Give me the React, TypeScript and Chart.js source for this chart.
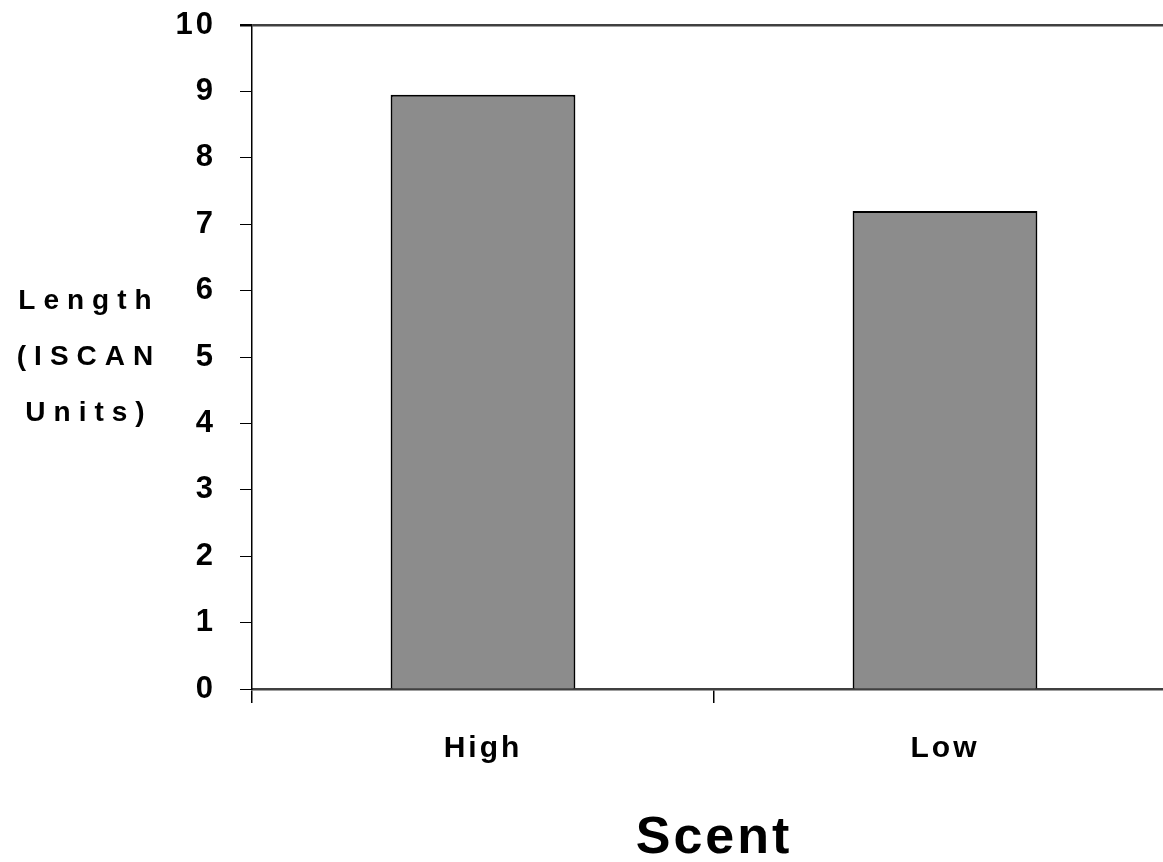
import React, { useEffect, useRef } from 'react';
import { Chart, registerables } from 'chart.js';

Chart.register(...registerables);

const categories = ['High', 'Low'];
const values = [8.95, 7.2];
const yMin = 0;
const yMax = 10;
const yStep = 1;
const yTitleLines = ['Length', '(ISCAN', 'Units)'];
const xTitle = 'Scent';

const FONT = '"Liberation Sans", Arial, Helvetica, sans-serif';

const textPlugin = {
  id: 'textPlugin',
  beforeDraw(chart: any) {
    chart.ctx.letterSpacing = '3px';
  },
  afterDraw(chart: any) {
    const ctx = chart.ctx;
    ctx.save();
    ctx.letterSpacing = '8px';
    ctx.font = `bold 28px ${FONT}`;
    ctx.fillStyle = '#000';
    ctx.textAlign = 'center';
    ctx.textBaseline = 'middle';
    const { top, bottom } = chart.chartArea;
    const cy = (top + bottom) / 2;
    yTitleLines.forEach((line, i) => {
      ctx.fillText(line, 89, cy + (i - 1) * 56);
    });
    ctx.restore();
    ctx.letterSpacing = '0px';
  },
};

export default function App() {
  const canvasRef = useRef<HTMLCanvasElement | null>(null);

  useEffect(() => {
    if (!canvasRef.current) return;
    const chart = new Chart(canvasRef.current, {
      type: 'bar',
      data: {
        labels: categories,
        datasets: [
          {
            data: values,
            backgroundColor: '#8c8c8c',
            borderColor: '#000',
            borderWidth: 2,
            barPercentage: 0.4,
            categoryPercentage: 1,
          },
        ],
      },
      options: {
        animation: false,
        responsive: true,
        maintainAspectRatio: false,
        layout: { padding: { top: 25, left: 0, right: 0, bottom: 0 } },
        plugins: {
          legend: { display: false },
          tooltip: { enabled: false },
        },
        scales: {
          x: {
            ticks: {
              color: '#000',
              font: { family: FONT, size: 30, weight: 'bold' },
              padding: 28,
            },
            grid: {
              offset: true,
              drawOnChartArea: false,
              tickLength: 14,
              tickColor: '#000',
              lineWidth: 1.5,
            },
            border: { color: '#404040', width: 2.5 },
            title: {
              display: true,
              text: xTitle,
              color: '#000',
              font: { family: FONT, size: 52, weight: 'bold', lineHeight: 0.9 },
              padding: { top: 0, bottom: 0 },
            },
            afterFit: (s: any) => {
              s.height = 173;
              s.paddingLeft = 0;
              s.paddingRight = 0;
            },
          },
          y: {
            min: yMin,
            max: yMax,
            ticks: {
              stepSize: yStep,
              color: '#000',
              font: { family: FONT, size: 31, weight: 'bold' },
              padding: 24,
            },
            grid: {
              color: (c: any) => (c.tick && c.tick.value === yMax ? '#404040' : 'rgba(0,0,0,0)'),
              lineWidth: (c: any) => (c.tick && c.tick.value === yMax ? 2.5 : 1),
              tickColor: '#000',
              tickLength: 12,
            },
            border: { color: '#000', width: 1.5 },
            afterFit: (s: any) => {
              s.width = 252;
              s.paddingTop = 0;
              s.paddingBottom = 0;
            },
          },
        },
      },
      plugins: [textPlugin],
    });
    return () => chart.destroy();
  }, []);

  return (
    <div style={{ position: 'fixed', left: 0, top: 0, width: '100vw', height: '100vh', overflow: 'hidden', background: '#fff' }}>
      <div style={{ position: 'absolute', left: 0, top: 0, width: 1176, height: 862 }}>
        <canvas ref={canvasRef} />
      </div>
    </div>
  );
}
